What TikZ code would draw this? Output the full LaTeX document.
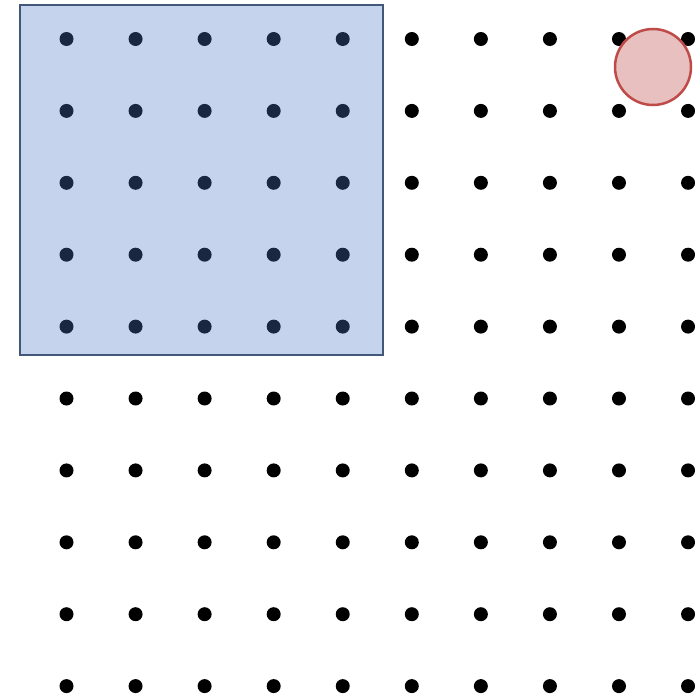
\documentclass[tikz,border=0pt]{standalone}
\usepackage{tikz}

\definecolor{winfill}{RGB}{79,121,200}
\definecolor{winedge}{RGB}{65,88,122}
\definecolor{ballfill}{RGB}{232,192,192}
\definecolor{balledge}{RGB}{190,75,72}

\begin{document}
\begin{tikzpicture}[
		x=1pt, y=-1pt,
		dot/.style={circle, fill=black, inner sep=0pt, minimum size=14pt},
		window/.style={draw=winedge, line width=2.5pt, fill=winfill, fill opacity=0.33, draw opacity=1,
			inner sep=0pt, minimum width=363pt, minimum height=350pt},
		ball/.style={circle, draw=balledge, line width=2.5pt, fill=ballfill, inner sep=0pt, minimum size=76pt}
		]
		\useasboundingbox (0,0) rectangle (695,699);
		\foreach \i in {0,...,9}
			\foreach \j in {0,...,9}
				\node[dot] (d-\i-\j) at ({66.5+69.06*\i}, {39+71.9*\j}) {};
		\node[window] (win) at (201.5,180) {};
		\node[ball] (ball) at (653,67) {};
	\end{tikzpicture}
\end{document}
